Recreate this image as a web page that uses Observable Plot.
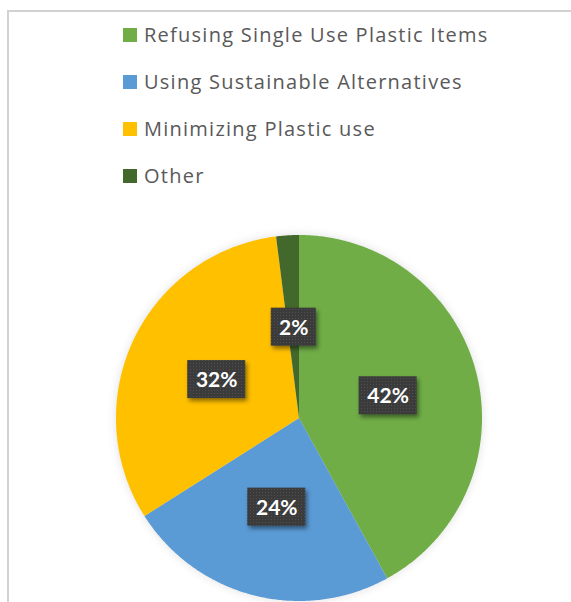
<!DOCTYPE html>
<html>
<head>
<meta charset="utf-8">
<script src="https://cdn.jsdelivr.net/npm/d3@7"></script>
<script src="https://cdn.jsdelivr.net/npm/@observablehq/plot@0.6"></script>
<style>
  html, body { margin: 0; padding: 0; background: #fff; }
  #frame { position: relative; width: 571px; height: 602px; overflow: hidden; background: #fff; }
  #border { position: absolute; left: 7px; top: 10px; width: 600px; height: 620px;
            border-left: 2px solid #d2d2d2; border-top: 2px solid #d2d2d2; box-sizing: border-box; }
  #legend { position: relative; padding-top: 11px; padding-left: 123px; height: 201px; box-sizing: content-box;
            font-family: "Open Sans", Lato, sans-serif; font-size: 20px; letter-spacing: 1.25px; color: #595959; }
  .row { height: 47px; display: flex; align-items: center; white-space: nowrap; }
  .sw { width: 14px; height: 14px; margin-right: 7px; flex: none; }
  #chart { position: relative; display: block; }
</style>
</head>
<body>
<div id="frame">
  <div id="border"></div>
  <div id="legend"></div>
  <div id="chart"></div>
</div>
<script>
const categories = ["Refusing Single Use Plastic Items", "Using Sustainable Alternatives", "Minimizing Plastic use", "Other"];
const values = [42, 24, 32, 2];
const colors = ["#70AD47", "#5B9BD5", "#FFC000", "#43682B"];

// Legend
const legend = document.getElementById("legend");
categories.forEach((c, i) => {
  const row = document.createElement("div");
  row.className = "row";
  const sw = document.createElement("span");
  sw.className = "sw";
  sw.style.background = colors[i];
  const t = document.createElement("span");
  t.textContent = c;
  row.appendChild(sw);
  row.appendChild(t);
  legend.appendChild(row);
});

// Pie geometry derived from the data
const arcs = d3.pie().sort(null).value(d => d)(values);
const slicePts = [];
arcs.forEach((a, i) => {
  const n = Math.max(2, Math.ceil((a.endAngle - a.startAngle) / (Math.PI / 360)));
  for (let k = 0; k <= n; ++k) {
    const ang = a.startAngle + (a.endAngle - a.startAngle) * k / n;
    slicePts.push({cat: categories[i], x: Math.sin(ang), y: Math.cos(ang), cx: 0, cy: 0});
  }
});

const pxPerUnit = 183;
const labels = arcs.map((a, i) => {
  const mid = (a.startAngle + a.endAngle) / 2;
  const txt = values[i] + "%";
  const hw = (19 + txt.length * 13) / 2 / pxPerUnit;
  const hh = 19 / pxPerUnit;
  const x = 0.5 * Math.sin(mid), y = 0.5 * Math.cos(mid);
  return {cat: categories[i], txt, x, y, x1: x - hw, x2: x + hw, y1: y - hh, y2: y + hh};
});

const plot = Plot.plot({
  width: 571,
  height: 390,
  margin: 0,
  x: {domain: [-1, 1], range: [116, 482], axis: null},
  y: {domain: [-1, 1], range: [389, 23], axis: null},
  color: {domain: categories, range: colors},
  marks: [
    Plot.area(slicePts, {x1: "x", y1: "y", x2: "cx", y2: "cy", z: "cat", fill: "cat", curve: "linear"}),
    Plot.rect(labels, {x1: "x1", x2: "x2", y1: "y1", y2: "y2", fill: "url(#dots)"}),
    Plot.text(labels, {x: "x", y: "y", text: "txt", fill: "white", fontSize: 21, fontWeight: "bold",
      fontFamily: "Lato, 'Open Sans', sans-serif", dy: 1})
  ]
});

const svg = d3.select(plot);
svg.style("overflow", "visible");
svg.insert("defs", ":first-child").html(
  '<pattern id="dots" width="3" height="3" patternUnits="userSpaceOnUse">' +
  '<rect width="3" height="3" fill="#3b3b3b"></rect>' +
  '<rect x="1" y="1" width="1" height="1" fill="#4f4f4f"></rect></pattern>');
svg.selectAll('g[aria-label="rect"]').style("filter", "drop-shadow(2px 3px 2px rgba(0,0,0,0.45))");
svg.selectAll('g[aria-label="area"]').style("filter", "drop-shadow(0px 0px 5px rgba(0,0,0,0.12))");
document.getElementById("chart").appendChild(plot);
</script>
</body>
</html>
